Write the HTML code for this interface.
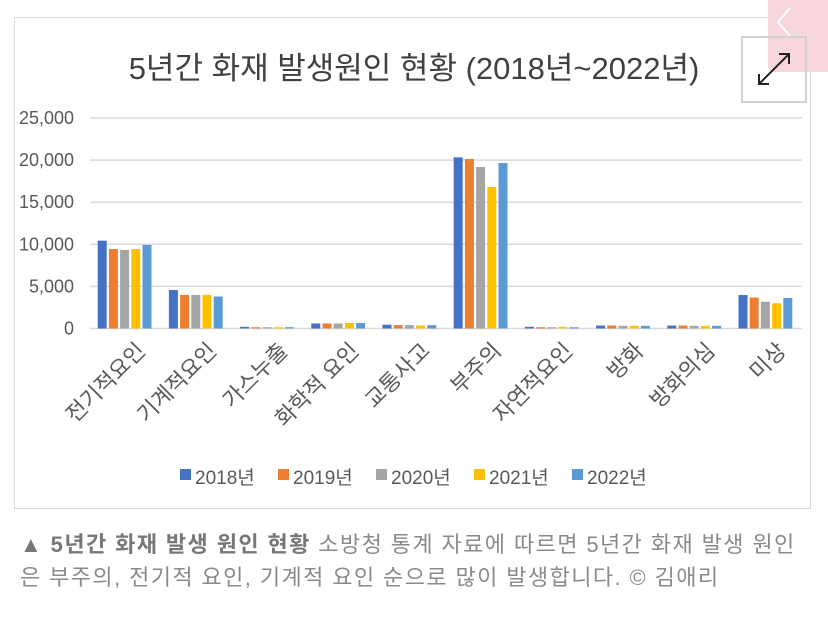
<!DOCTYPE html>
<html><head><meta charset="utf-8">
<style>
body{margin:0;width:828px;height:630px;background:#fff;overflow:hidden;font-family:"Liberation Sans","Noto Sans CJK KR",sans-serif;position:relative}
#frame{position:absolute;left:14px;top:17px;width:797px;height:492px;border:1px solid #d9d9d9;box-sizing:border-box}
#pink{position:absolute;left:768px;top:0;width:60px;height:72px;background:#f7d7dc;border-bottom-left-radius:6px}
#expand{position:absolute;left:741px;top:36px;width:66px;height:67px;border:2px solid #d0d0d0;box-sizing:border-box}
.cap{position:absolute;left:20px;font-size:22px;letter-spacing:1.4px;color:#8a8a8a;white-space:nowrap;line-height:30px}
</style></head><body>
<div id="frame"></div>
<div id="pink"></div>
<svg width="828" height="630" style="position:absolute;left:0;top:0" id="chart">
<text x="414" y="79" text-anchor="middle" font-size="31" fill="#404040">5년간 화재 발생원인 현황 (2018년~2022년)</text>
<polyline points="790,8 778,22 790,36" fill="none" stroke="#fff" stroke-width="2"/>
<g id="grid"></g><g id="bars"></g><g id="xl"></g><g id="legend"></g>
<g stroke="#222" stroke-width="2" fill="none">
<line x1="759" y1="84" x2="789" y2="54"/><polyline points="779,54 789,54 789,64"/><polyline points="759,74 759,84 769,84"/>
</g>
</svg>
<div id="expand"></div>
<div class="cap" style="top:530px"><b style="color:#777">▲ 5년간 화재 발생 원인 현황</b> 소방청 통계 자료에 따르면 5년간 화재 발생 원인</div>
<div class="cap" style="top:563px">은 부주의, 전기적 요인, 기계적 요인 순으로 많이 발생합니다. © 김애리</div>
<script>
const categories=["전기적요인","기계적요인","가스누출","화학적 요인","교통사고","부주의","자연적요인","방화","방화의심","미상"];
const seriesNames=["2018년","2019년","2020년","2021년","2022년"];
const colors=["#4472c4","#ed7d31","#a5a5a5","#ffc000","#5b9bd5"];
const v2018=[10430,4570,200,600,450,20330,200,350,350,3980];
const v2019=[9440,3990,150,600,400,20130,150,350,350,3680];
const v2020=[9320,3990,150,600,400,19180,150,320,320,3180];
const v2021=[9440,3990,150,650,350,16800,200,320,320,3000];
const v2022=[9920,3800,150,650,400,19650,150,320,320,3620];
const series=[v2018,v2019,v2020,v2021,v2022];
const yTicks=[0,5000,10000,15000,20000,25000];
const yTickLabels=["0","5,000","10,000","15,000","20,000","25,000"];
const NS="http://www.w3.org/2000/svg";
const X0=90,X1=802,Y0=328.5,Y1=118,YMAX=25000;
const y=v=>Y0-(v/YMAX)*(Y0-Y1);
const step=(X1-X0)/categories.length;
const cx=i=>X0+step*(i+0.5)-1;
function mk(t,a,p){const e=document.createElementNS(NS,t);for(const k in a)e.setAttribute(k,a[k]);p.appendChild(e);return e;}
const grid=document.getElementById('grid');
yTicks.forEach((t,i)=>{
  const l=mk('line',{x1:X0,x2:X1,y1:y(t),y2:y(t),stroke:'#d9d9d9','stroke-width':1.5},grid);
  
  
  const tx=mk('text',{x:74,y:y(t)+6,'text-anchor':'end','font-size':18,fill:'#595959'},grid);
  tx.textContent=yTickLabels[i];
  
  
});
const bars=document.getElementById('bars');
const bw=9,gap=2.2;
categories.forEach((c,i)=>{
  series.forEach((s,j)=>{
    const x=cx(i)+(j-2)*(bw+gap)-bw/2;
    const r=mk('rect',{x:x,y:y(s[i]),width:bw,height:Y0-y(s[i]),fill:colors[j]},bars);
    
    
  });
});
const xl=document.getElementById('xl');
categories.forEach((c,i)=>{
  const px=cx(i)+22,py=352;
  const t=mk('text',{x:px,y:py,'text-anchor':'end','font-size':22,fill:'#595959',transform:`rotate(-45 ${px} ${py})`},xl);
  t.textContent=c;
  
  
});
const lg=document.getElementById('legend');
seriesNames.forEach((n,j)=>{
  const lx=180+j*98;
  const r=mk('rect',{x:lx,y:469,width:11,height:11,fill:colors[j]},lg);
  
  
  const t=mk('text',{x:lx+15,y:484,'font-size':19,fill:'#595959'},lg);
  t.textContent=n;
  
  
});
</script>
</body></html>
